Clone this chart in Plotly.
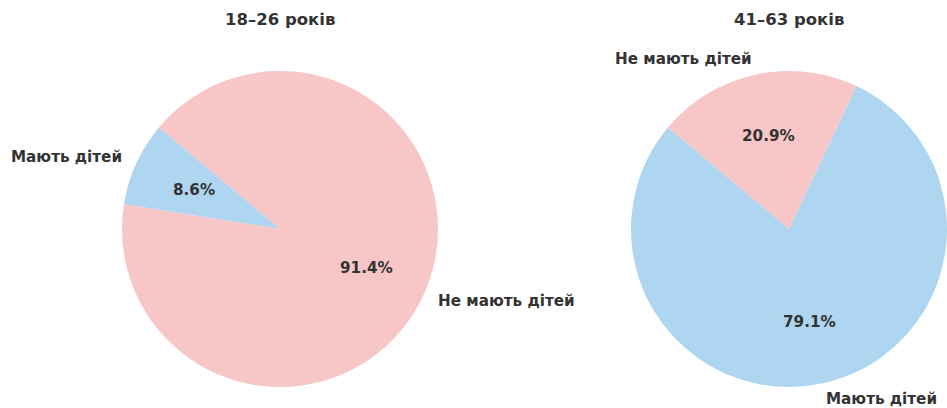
import math
import plotly.graph_objects as go

# Data
groups = ["18–26 років", "41–63 років"]
categories = ["Мають дітей", "Не мають дітей"]
values_young = [8.6, 91.4]
values_old = [79.1, 20.9]
colors = ["#AED6F1", "#F7C6C7"]

W, H = 947, 408
R = 158
centers = [(280, 229), (789, 229)]
START = 140  # degrees, counterclockwise from 3 o'clock
FONT = "DejaVu Sans"
TXT = "#333333"

fig = go.Figure()
annotations = []

for (cx, cy), title, vals in zip(centers, groups, [values_young, values_old]):
    total = sum(vals)
    dom_x = [(cx - R) / W, (cx + R) / W]
    dom_y = [1 - (cy + R) / H, 1 - (cy - R) / H]
    fig.add_trace(go.Pie(
        labels=categories, values=vals, sort=False,
        direction="counterclockwise",
        rotation=90 - START - 360 * vals[0] / total,
        marker=dict(colors=colors, line=dict(width=0)),
        textinfo="none", hoverinfo="label+percent",
        domain=dict(x=dom_x, y=dom_y), showlegend=False,
    ))
    cum = 0.0
    for lab, v in zip(categories, vals):
        mid = math.radians(START + (cum + v / 2) / total * 360)
        cum += v
        c, s = math.cos(mid), math.sin(mid)
        # outside label at 1.1R
        lx, ly = cx + 1.1 * R * c, cy - 1.1 * R * s
        annotations.append(dict(
            x=lx / W, y=1 - ly / H, xref="paper", yref="paper",
            text="<b>%s</b>" % lab, showarrow=False, borderpad=0, borderwidth=0,
            xanchor="left" if c >= 0 else "right", yanchor="middle",
            font=dict(family=FONT, size=15.2, color=TXT),
        ))
        # percentage at 0.6R
        px, py = cx + 0.6 * R * c, cy - 0.6 * R * s
        annotations.append(dict(
            x=px / W, y=1 - py / H, xref="paper", yref="paper",
            text="<b>%.1f%%</b>" % (v / total * 100), showarrow=False,
            xanchor="center", yanchor="middle",
            font=dict(family=FONT, size=15.2, color=TXT),
        ))
    annotations.append(dict(
        x=cx / W, y=1 - 19 / H, xref="paper", yref="paper",
        text="<b>%s</b>" % title, showarrow=False,
        xanchor="center", yanchor="middle",
        font=dict(family=FONT, size=16.5, color=TXT),
    ))

fig.update_layout(
    width=W, height=H,
    margin=dict(l=0, r=0, t=0, b=0),
    paper_bgcolor="white", plot_bgcolor="white",
    annotations=annotations,
)

fig.write_html(
    "out.html",
    config={"displayModeBar": False},
    post_script="document.body.style.margin='0';document.body.style.overflow='hidden';",
)
